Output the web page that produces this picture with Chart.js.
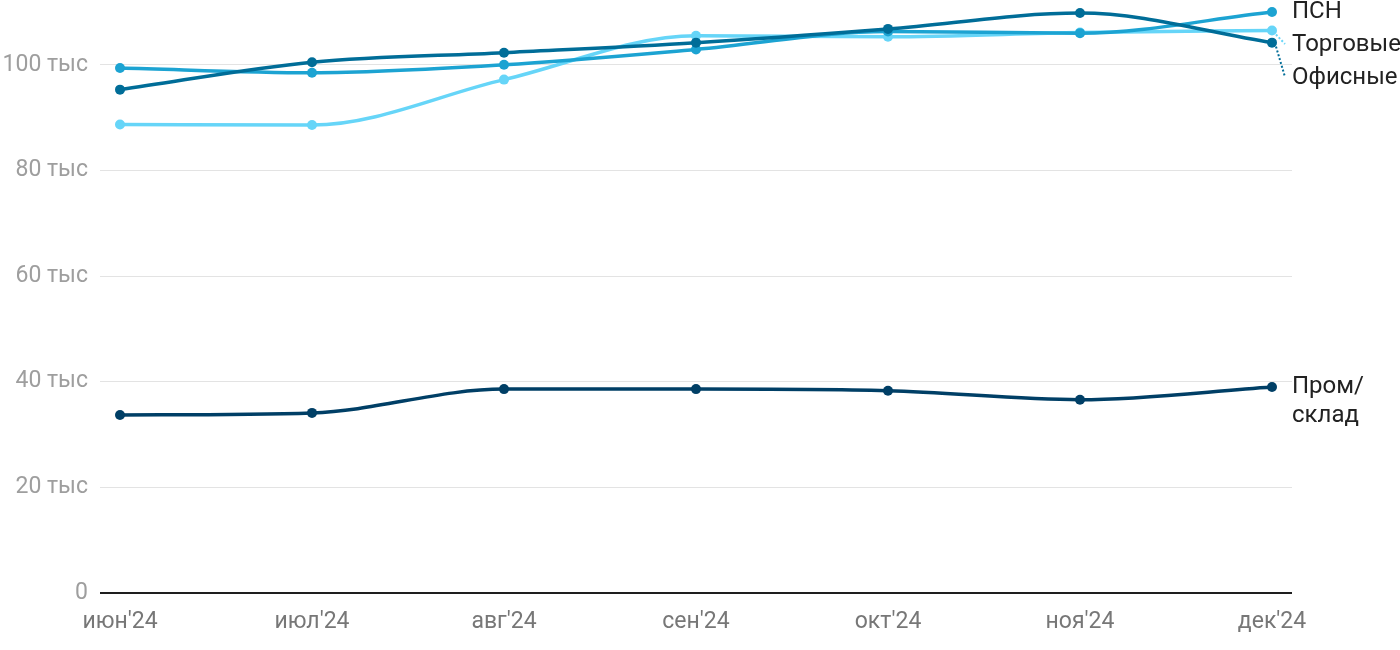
<!DOCTYPE html>
<html lang="ru">
<head>
<meta charset="utf-8">
<title>Ставки аренды</title>
<script src="https://cdn.jsdelivr.net/npm/chart.js@4.4.1/dist/chart.umd.min.js"></script>
<style>
  html, body { margin: 0; padding: 0; background: #fff; }
  #wrap { width: 1400px; height: 650px; }
</style>
</head>
<body>
<div id="wrap"><canvas id="chart_rent" width="1400" height="650"></canvas></div>
<script>
// данные, тыс.
const months = ["июн'24", "июл'24", "авг'24", "сен'24", "окт'24", "ноя'24", "дек'24"];
const psn_values = [99.4, 98.5, 100.0, 102.9, 106.3, 106.0, 110.0];
const trade_values = [88.7, 88.6, 97.2, 105.5, 105.3, 106.1, 106.5];
const office_values = [95.3, 100.5, 102.3, 104.2, 106.8, 109.8, 104.2];
const warehouse_values = [33.7, 34.1, 38.6, 38.6, 38.3, 36.6, 39.0];
const y_ticks = [0, 20, 40, 60, 80, 100];

Chart.defaults.font.family = 'Roboto, "Liberation Sans", sans-serif';
Chart.defaults.font.size = 23;

const toPoints = arr => arr.map((v, i) => ({ x: i, y: v }));

function series(name, values, color) {
    return {
        label: name.join(' '),
        endLabel: name,
        data: toPoints(values),
        borderColor: color,
        backgroundColor: color,
        pointBackgroundColor: color,
        borderWidth: 3.5,
        pointRadius: 5,
        pointBorderWidth: 0,
        cubicInterpolationMode: 'monotone',
        clip: false
    };
}

// подписи справа от последних точек
const endLabels = {
    id: 'endLabels',
    afterDatasetsDraw(chart) {
        const ctx = chart.ctx;
        const area = chart.chartArea;
        const items = chart.data.datasets.map((ds, i) => {
            const meta = chart.getDatasetMeta(i);
            const pt = meta.data[meta.data.length - 1];
            return { lines: ds.endLabel, color: ds.borderColor, px: pt.x, py: pt.y, y: pt.y };
        }).sort((a, b) => a.py - b.py);

        for (let k = 1; k < items.length; k++) {
            const prev = items[k - 1];
            const gap = Math.max(33, prev.lines.length * 29 + 4);
            items[k].y = Math.max(items[k].y, prev.y + gap);
        }

        ctx.save();
        const lx = area.right;
        items.forEach(it => {
            if (Math.abs(it.y - it.py) > 4) {
                ctx.beginPath();
                ctx.setLineDash([2, 2]);
                ctx.lineWidth = 2;
                ctx.strokeStyle = it.color;
                ctx.moveTo(it.px + 4, it.py + 4);
                ctx.lineTo(lx - 7, it.y - 1);
                ctx.stroke();
            }
            ctx.setLineDash([]);
            ctx.fillStyle = '#222';
            ctx.font = '24px Roboto, "Liberation Sans", sans-serif';
            ctx.textAlign = 'left';
            ctx.textBaseline = 'middle';
            it.lines.forEach((t, j) => ctx.fillText(t, lx, it.y + j * 29));
        });
        ctx.restore();
    }
};

const ctx_rent = document.getElementById('chart_rent').getContext('2d');

new Chart(ctx_rent, {
    type: 'line',
    data: {
        datasets: [
            series(['Офисные'], office_values, '#006d98'),
            series(['ПСН'], psn_values, '#1ca3d2'),
            series(['Торговые'], trade_values, '#66d5f8'),
            series(['Пром/', 'склад'], warehouse_values, '#003f66')
        ]
    },
    options: {
        responsive: false,
        animation: false,
        layout: { padding: { top: 12, right: 108, left: 0, bottom: 0 } },
        scales: {
            x: {
                type: 'linear',
                min: -20 / 192,
                max: 6 + 20 / 192,
                afterBuildTicks: scale => { scale.ticks = months.map((m, i) => ({ value: i })); },
                afterFit: scale => {
                    scale.height = 57;
                    scale.paddingLeft = 0;
                    scale.paddingRight = 0;
                },
                grid: { display: false, drawTicks: false },
                border: { display: false },
                ticks: {
                    color: '#777',
                    padding: 15,
                    maxRotation: 0,
                    autoSkip: false,
                    callback: value => months[value]
                }
            },
            y: {
                min: 0,
                max: 110,
                afterBuildTicks: scale => { scale.ticks = y_ticks.map(v => ({ value: v })); },
                afterFit: scale => {
                    scale.width = 100;
                    scale.paddingTop = 0;
                    scale.paddingBottom = 0;
                },
                border: { display: false },
                grid: {
                    drawTicks: false,
                    color: c => c.tick && c.tick.value === 0 ? '#1e1e1e' : '#e3e3e3',
                    lineWidth: c => c.tick && c.tick.value === 0 ? 2 : 1
                },
                ticks: {
                    color: '#9e9e9e',
                    padding: 12,
                    callback: value => value === 0 ? '0' : value + ' тыс'
                }
            }
        },
        plugins: {
            legend: { display: false },
            tooltip: { enabled: false }
        }
    },
    plugins: [endLabels]
});
</script>
</body>
</html>
